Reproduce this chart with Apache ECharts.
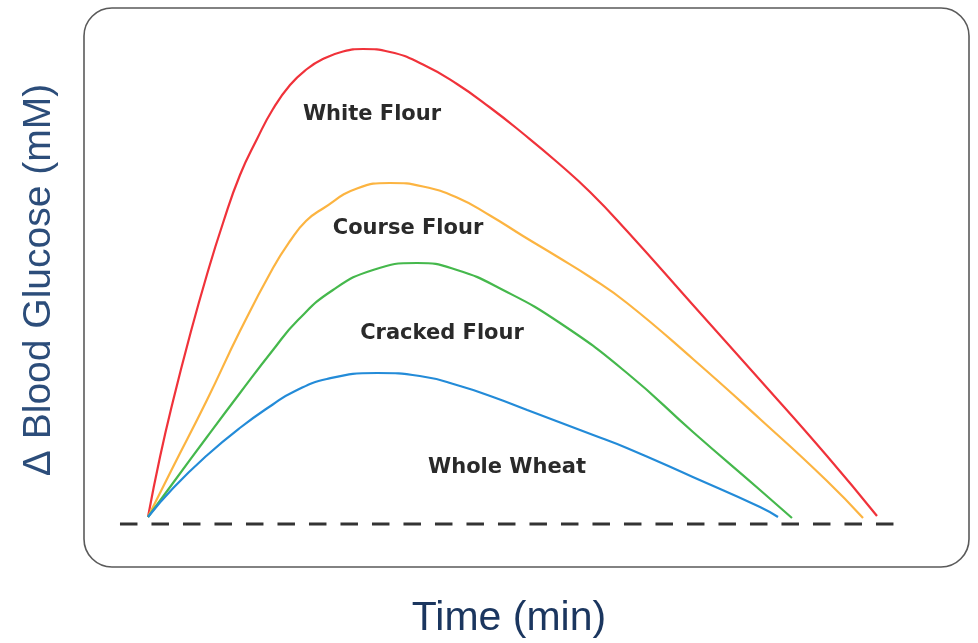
<!DOCTYPE html>
<html>
<head>
<meta charset="utf-8">
<script src="https://cdn.jsdelivr.net/npm/echarts@6/dist/echarts.min.js"></script>
<style>
html,body{margin:0;padding:0;background:#fff;}
#chart{width:978px;height:643px;}
</style>
</head>
<body>
<div id="chart"></div>
<script>
// Series names (curve labels)
const seriesNames = ['White Flour', 'Course Flour', 'Cracked Flour', 'Whole Wheat'];

// Time values (arbitrary units) and Δ glucose values
const whiteFlourTime = [0, 2, 4.17, 7, 9.83, 12.5, 15.33, 18.17, 20.83, 23.67, 26.5, 29.17, 32.5, 35.83, 40.33, 45.83, 51.5, 57, 62.5, 68.17, 73.67, 79.83, 90.83, 102, 113.17, 121.5];
const whiteFlourGlucose = [0.7, 6.7, 12.3, 18.9, 24.95, 30.1, 34.9, 38.5, 41.5, 43.9, 45.5, 46.5, 47.25, 47.5, 47.2, 45.95, 44.0, 41.65, 39.05, 36.2, 33.2, 29.3, 21.9, 14.4, 6.8, 0.8];

const courseFlourTime = [0, 4.17, 9.83, 15.33, 20.83, 23.67, 26.33, 29.17, 34.83, 40.33, 45.83, 51.5, 57, 62.5, 68.17, 73.67, 79.83, 90.83, 102, 113.17, 119.17];
const courseFlourGlucose = [0.7, 5.7, 12.4, 19.3, 25.6, 28.3, 30.3, 31.55, 33.55, 34.1, 33.75, 32.65, 30.85, 28.8, 26.75, 24.7, 22.1, 16.5, 10.5, 4.3, 0.6];

const crackedFlourTime = [0, 4.17, 9.83, 15.33, 20.83, 25, 30.83, 37.5, 44.83, 51.5, 59.17, 68.67, 79.83, 90.83, 102, 107.33];
const crackedFlourGlucose = [0.7, 4.1, 8.7, 13.1, 17.4, 20.4, 23.4, 25.4, 26.1, 25.4, 23.4, 20.1, 15.1, 9.2, 3.4, 0.6];

const wholeWheatTime = [0, 4.2, 9.8, 15.3, 20.8, 24.2, 29.8, 38.2, 45.3, 52, 57.5, 63.2, 74.2, 79.8, 90.8, 102, 105];
const wholeWheatGlucose = [0.7, 3.6, 6.85, 9.6, 11.95, 13.2, 14.5, 15.1, 14.8, 13.8, 12.7, 11.4, 8.9, 7.6, 4.7, 1.7, 0.7];

// Baseline (Δ = 0)
const baselineTime = [-4.67, 124.8];
const baselineGlucose = [0, 0];

const axisTitles = { x: 'Time (min)', y: 'Δ Blood Glucose (mM)' };

function pairs(xs, ys) { return xs.map((x, i) => [x, ys[i]]); }

const colors = ['#f0323a', '#fcb441', '#45b84c', '#238bd8'];
const curveData = [
  pairs(whiteFlourTime, whiteFlourGlucose),
  pairs(courseFlourTime, courseFlourGlucose),
  pairs(crackedFlourTime, crackedFlourGlucose),
  pairs(wholeWheatTime, wholeWheatGlucose)
];

const chart = echarts.init(document.getElementById('chart'), null, { renderer: 'canvas' });

const series = [{
  type: 'line',
  name: 'baseline',
  data: pairs(baselineTime, baselineGlucose),
  symbol: 'none',
  clip: false,
  silent: true,
  lineStyle: { color: '#333333', width: 3, type: [17.5, 14] },
  z: 1
}];
curveData.forEach((d, i) => {
  series.push({
    type: 'line',
    name: seriesNames[i],
    data: d,
    symbol: 'none',
    smooth: 0.5,
    clip: false,
    lineStyle: { color: colors[i], width: 2.2 },
    z: 2
  });
});

const labelPos = [[372, 115], [408, 229], [442, 334], [507, 468]];
const graphics = [{
  type: 'rect',
  shape: { x: 84, y: 8, width: 885, height: 559, r: 28 },
  style: { fill: 'none', stroke: '#5a5a5a', lineWidth: 1.6 },
  z: 0,
  silent: true
}, {
  type: 'text',
  x: 509, y: 619,
  style: {
    text: axisTitles.x, fill: '#1b365f',
    font: '41px "Liberation Sans", Arial, sans-serif',
    textAlign: 'center', textVerticalAlign: 'middle'
  }
}, {
  type: 'text',
  x: 39, y: 280,
  rotation: Math.PI / 2,
  style: {
    text: axisTitles.y, fill: '#2c4d7a',
    font: '39px "Liberation Sans", Arial, sans-serif',
    textAlign: 'center', textVerticalAlign: 'middle'
  }
}];
seriesNames.forEach((n, i) => {
  graphics.push({
    type: 'text',
    x: labelPos[i][0], y: labelPos[i][1],
    style: {
      text: n, fill: '#2a2a2a',
      font: 'bold 21px "DejaVu Sans", sans-serif',
      textAlign: 'center', textVerticalAlign: 'middle'
    }
  });
});

chart.setOption({
  animation: false,
  backgroundColor: '#ffffff',
  grid: { left: 118, top: 24, width: 780, height: 520 },
  xAxis: { type: 'value', min: -5, max: 125, show: false },
  yAxis: { type: 'value', min: -2, max: 50, show: false },
  series: series,
  graphic: graphics
});
</script>
</body>
</html>
